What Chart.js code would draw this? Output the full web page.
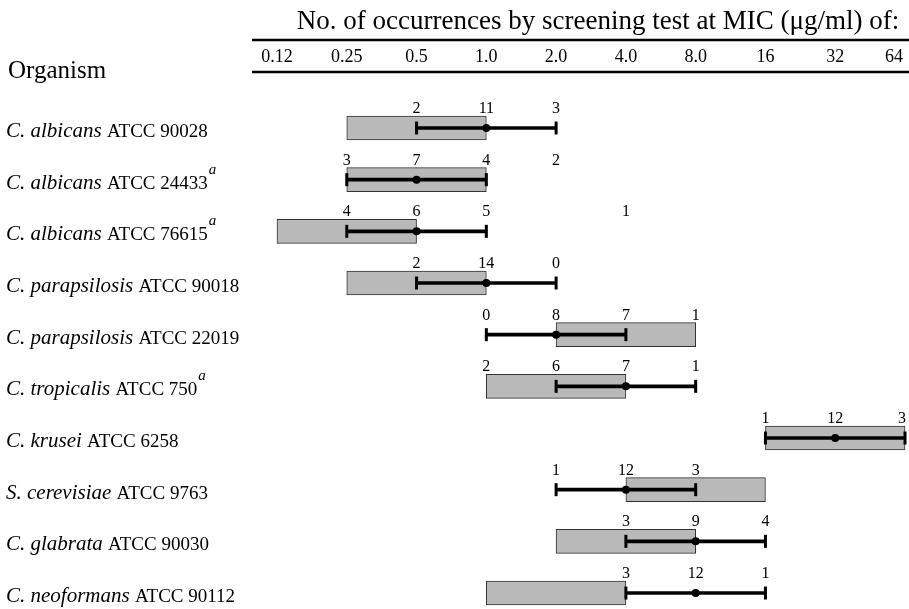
<!DOCTYPE html>
<html>
<head>
<meta charset="utf-8">
<script src="https://cdn.jsdelivr.net/npm/chart.js@4/dist/chart.umd.min.js"></script>
<style>
  html, body { margin: 0; padding: 0; background: #fff; }
  #wrap { width: 909px; height: 609px; position: relative; }
</style>
</head>
<body>
<div id="wrap"><canvas id="micChart"></canvas></div>
<script>
// MIC steps along the top (ug/ml)
const micTicks = [0.125, 0.25, 0.5, 1, 2, 4, 8, 16, 32, 64];
const micTickLabels = ["0.12", "0.25", "0.5", "1.0", "2.0", "4.0", "8.0", "16", "32", "64"];

// organisms, one row each
const species = ["C. albicans", "C. albicans", "C. albicans", "C. parapsilosis", "C. parapsilosis",
  "C. tropicalis", "C. krusei", "S. cerevisiae", "C. glabrata", "C. neoformans"];
const strains = ["ATCC 90028", "ATCC 24433", "ATCC 76615", "ATCC 90018", "ATCC 22019",
  "ATCC 750", "ATCC 6258", "ATCC 9763", "ATCC 90030", "ATCC 90112"];
const footnotes = ["", "a", "a", "", "", "a", "", "", "", ""];

// expected MIC range (grey box)
const refLow = [0.25, 0.25, 0.125, 0.25, 2, 1, 16, 4, 2, 1];
const refHigh = [1, 1, 0.5, 1, 8, 4, 64, 16, 8, 4];

// screening test range (bar) and mode (dot)
const testLow = [0.5, 0.25, 0.25, 0.5, 1, 2, 16, 2, 4, 4];
const testHigh = [2, 1, 1, 2, 4, 8, 64, 8, 16, 16];
const testMode = [1, 0.5, 0.5, 1, 2, 4, 32, 4, 8, 8];

// number of occurrences at each MIC
const countMics = [
  [0.5, 1, 2],
  [0.25, 0.5, 1, 2],
  [0.25, 0.5, 1, 4],
  [0.5, 1, 2],
  [1, 2, 4, 8],
  [1, 2, 4, 8],
  [16, 32, 64],
  [2, 4, 8],
  [4, 8, 16],
  [4, 8, 16]
];
const counts = [
  [2, 11, 3],
  [3, 7, 4, 2],
  [4, 6, 5, 1],
  [2, 14, 0],
  [0, 8, 7, 1],
  [2, 6, 7, 1],
  [1, 12, 3],
  [1, 12, 3],
  [3, 9, 4],
  [3, 12, 1]
];

const SERIF = "'Liberation Serif', 'Times New Roman', serif";

// text parts: header, MIC row, organism names, counts
const textPlugin = {
  id: "micText",
  afterDraw(chart) {
    const ctx = chart.ctx;
    const x = chart.scales.x;
    const y = chart.scales.y;
    ctx.save();
    ctx.fillStyle = "#000";

    // header
    ctx.font = "27px " + SERIF;
    ctx.textAlign = "center";
    ctx.textBaseline = "alphabetic";
    ctx.fillText("No. of occurrences by screening test at MIC (\u03BCg/ml) of:", 598, 29);

    // two rules
    ctx.strokeStyle = "#000";
    ctx.lineWidth = 2.5;
    ctx.beginPath();
    ctx.moveTo(252, 40); ctx.lineTo(909, 40);
    ctx.moveTo(252, 72); ctx.lineTo(909, 72);
    ctx.stroke();

    // MIC tick labels
    ctx.font = "18px " + SERIF;
    ctx.textBaseline = "middle";
    micTicks.forEach((v, i) => {
      const w = ctx.measureText(micTickLabels[i]).width;
      let px = x.getPixelForValue(v);
      px = Math.min(px, 909 - w / 2 - 6);
      ctx.fillText(micTickLabels[i], px, 57);
    });

    // organism column
    ctx.textAlign = "left";
    ctx.textBaseline = "alphabetic";
    ctx.font = "25px " + SERIF;
    ctx.fillText("Organism", 8, 78);

    species.forEach((sp, i) => {
      const py = y.getPixelForValue(i) + 9;
      ctx.font = "italic 21px " + SERIF;
      ctx.fillText(sp, 6, py);
      let px = 6 + ctx.measureText(sp + " ").width;
      ctx.font = "19px " + SERIF;
      ctx.fillText(strains[i], px, py);
      px += ctx.measureText(strains[i]).width;
      if (footnotes[i]) {
        ctx.font = "italic 15px " + SERIF;
        ctx.fillText(footnotes[i], px + 1, py - 15);
      }
    });

    // counts above each row
    ctx.font = "16px " + SERIF;
    ctx.textAlign = "center";
    counts.forEach((row, i) => {
      const py = y.getPixelForValue(i) - 15;
      row.forEach((n, j) => {
        const w = ctx.measureText(String(n)).width;
        const px = Math.min(x.getPixelForValue(countMics[i][j]), 909 - w / 2 - 3);
        ctx.fillText(String(n), px, py);
      });
    });
    ctx.restore();
  }
};

const rows = species.map((s, i) => i);

new Chart(document.getElementById("micChart"), {
  type: "bar",
  data: {
    datasets: [
      {
        type: "scatter",
        label: "mode",
        data: rows.map(i => ({ x: testMode[i], y: i })),
        pointRadius: 4,
        pointBackgroundColor: "#000",
        pointBorderWidth: 0,
        clip: false,
        order: 0
      },
      {
        type: "scatter",
        label: "caps",
        data: rows.flatMap(i => [{ x: testLow[i], y: i }, { x: testHigh[i], y: i }]),
        pointStyle: "line",
        rotation: 90,
        pointRadius: 6.5,
        pointBorderColor: "#000",
        pointBorderWidth: 3,
        clip: false,
        order: 1
      },
      {
        type: "bar",
        label: "test range",
        indexAxis: "y",
        grouped: false,
        data: rows.map(i => ({ x: [testLow[i], testHigh[i]], y: i })),
        backgroundColor: "#000",
        borderWidth: 0,
        barThickness: 3,
        clip: false,
        order: 2
      },
      {
        type: "bar",
        label: "reference range",
        indexAxis: "y",
        grouped: false,
        data: rows.map(i => ({ x: [refLow[i], refHigh[i]], y: i })),
        backgroundColor: "#b9b9b9",
        borderColor: "#333",
        borderWidth: 1,
        borderSkipped: false,
        barThickness: 24,
        clip: false,
        order: 3
      }
    ]
  },
  options: {
    responsive: true,
    maintainAspectRatio: false,
    animation: false,
    layout: { autoPadding: false, padding: { left: 277, right: 4, top: 100, bottom: 4 } },
    plugins: { legend: { display: false }, tooltip: { enabled: false } },
    scales: {
      x: { type: "logarithmic", min: 0.125, max: 64, bounds: "data", display: false, offset: false },
      y: { type: "linear", min: -0.542, max: 9.232, bounds: "data", reverse: true, display: false, offset: false }
    }
  },
  plugins: [textPlugin]
});
</script>
</body>
</html>
